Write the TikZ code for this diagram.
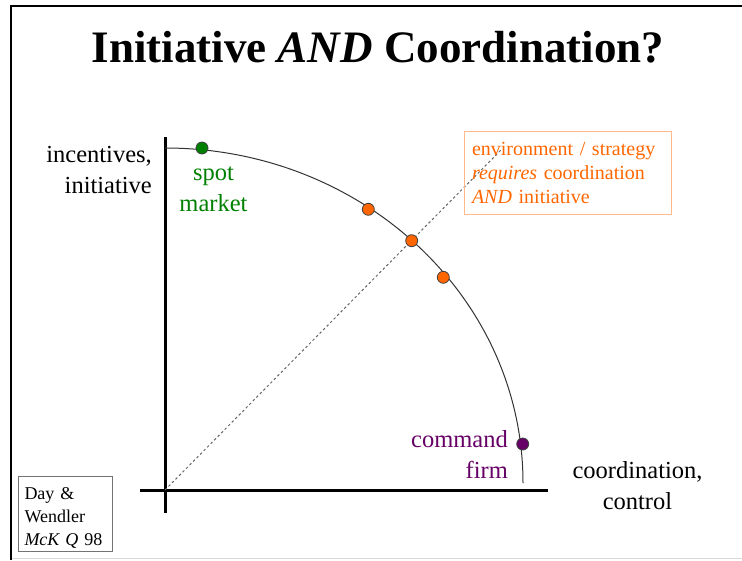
\documentclass[tikz,border=0pt]{standalone}
\usepackage{fontspec}
\setmainfont{Liberation Serif}
\usetikzlibrary{positioning}
\definecolor{hiorange}{HTML}{FF6600}
\definecolor{boxpeach}{HTML}{FFB98A}
\definecolor{spotgreen}{HTML}{008000}
\definecolor{firmpurple}{HTML}{660066}

\begin{document}
\begin{tikzpicture} [x=1pt, y=-1pt, inner sep=0pt,
        dot/.style = {circle, draw=black!75, line width=0.8pt, minimum size=12pt},
        lbl/.style = {font=\fontsize{24.5}{31}\selectfont},
        axis/.style = {line width=3pt}]
        \useasboundingbox (0,0) rectangle (742,560);
        % slide frame
        \draw [line width=2.5pt] (742,6) -- (11,6) -- (11,560);
        \draw [black!15] (12,558.5) -- (742,558.5);

        \node (title) [anchor=base, font=\fontsize{45}{54}\selectfont\bfseries] at (378,62) {Initiative \textit{AND} Coordination?};

        % axes
        \coordinate (origin) at (165,490);
        \coordinate (ytop) at (165,137);
        \coordinate (ybot) at (165,513);
        \coordinate (xleft) at (140,490);
        \coordinate (xright) at (548,490);
        \draw [axis] (ybot) -- (ytop);
        \draw [axis] (xleft) -- (xright);

        % diagonal and frontier
        \coordinate (dashend) at (501,150);
        \draw [black!60, line width=1pt, dash pattern=on 2.5pt off 2.5pt] (origin) -- (dashend);
        \coordinate (ftop) at (165,148);
        \draw [black!80, line width=1pt] (ftop) arc [start angle=90, end angle=0, x radius=358pt, y radius=335pt];

        \node (spotdot) [dot, fill=spotgreen] at (202,148) {};
        \node (o1) [dot, fill=hiorange] at (368.3,209.3) {};
        \node (mid) [dot, fill=hiorange] at (411.7,240.7) {};
        \node (o3) [dot, fill=hiorange] at (443.3,277.3) {};
        \node (firmdot) [dot, fill=firmpurple] at (522.7,444) {};

        % labels
        \node (incent) [lbl, align=right, anchor=east] at (152,170) {incentives,\\initiative};
        \node (spot) [lbl, align=center, text=spotgreen] at (213.5,189) {spot\\market};
        \node (command) [lbl, align=right, anchor=east, text=firmpurple] at (508,454) {command\\firm};
        \node (coord) [lbl, align=center] at (637.5,486) {coordination,\\control};

        \node (req) [draw=boxpeach, line width=1pt, text=hiorange, font=\fontsize{20}{24.2}\selectfont,
            align=left, text width=191pt, inner xsep=8pt, minimum height=82.6pt] at (567.5,173)
            {environment / strategy\\\textit{requires} coordination\\\textit{AND} initiative};

        \node (cite) [draw=black!55, line width=0.8pt, font=\fontsize{18}{23}\selectfont,
            align=left, text width=82pt, inner xsep=6pt, minimum height=75pt] at (65.5,513.5)
            {\rule{0pt}{21pt}Day \&\\Wendler\\\textit{McK Q} 98};
    \end{tikzpicture}
\end{document}
